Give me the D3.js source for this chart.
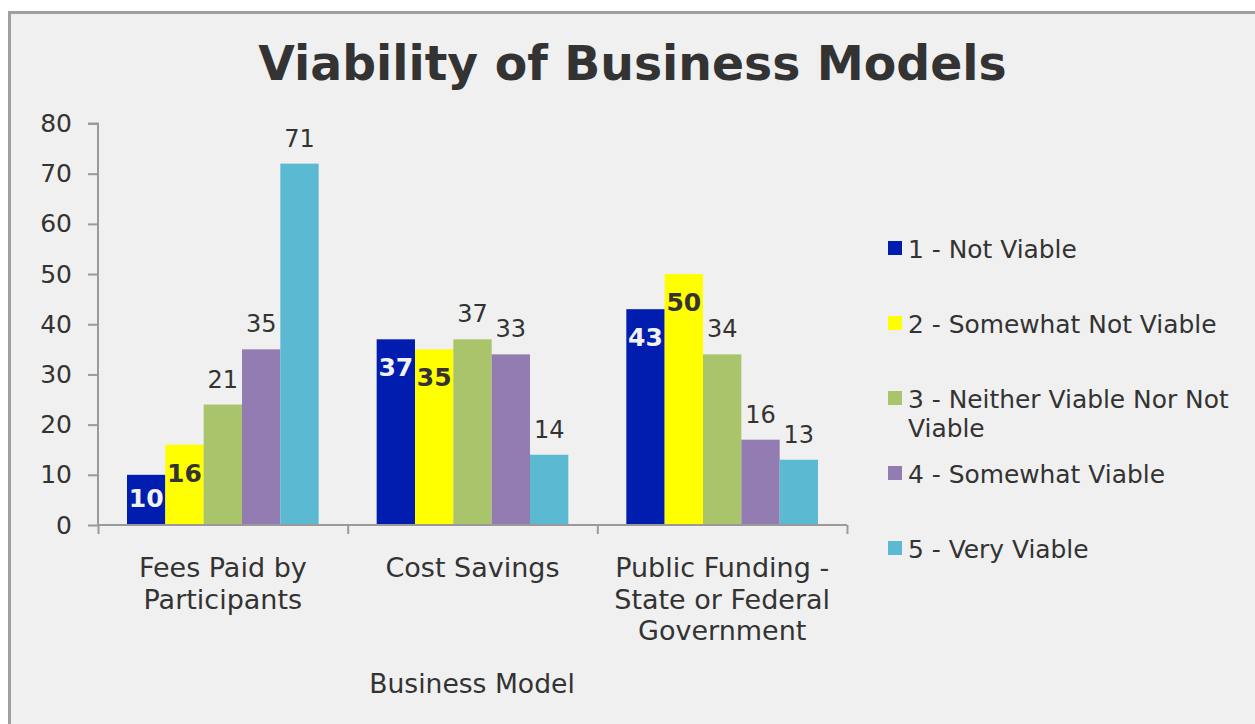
<!DOCTYPE html>
<html>
<head>
<meta charset="utf-8">
<script src="https://cdn.jsdelivr.net/npm/d3@7"></script>
<style>
  html, body { margin: 0; padding: 0; background: #ffffff; }
  svg { display: block; }
  text { font-family: "DejaVu Sans", Verdana, sans-serif; fill: #333333; }
</style>
</head>
<body>
<svg id="chart" width="1255" height="724"></svg>
<script>
// ---- data ----
const title = "Viability of Business Models";
const xAxisTitle = "Business Model";
const categories = ["Fees Paid by Participants", "Cost Savings", "Public Funding - State or Federal Government"];
const categoryLines = [["Fees Paid by", "Participants"], ["Cost Savings"], ["Public Funding -", "State or Federal", "Government"]];
const seriesNames = ["1 - Not Viable", "2 - Somewhat Not Viable", "3 - Neither Viable Nor Not Viable", "4 - Somewhat Viable", "5 - Very Viable"];
const legendLines = [["1 - Not Viable"], ["2 - Somewhat Not Viable"], ["3 - Neither Viable Nor Not", "Viable"], ["4 - Somewhat Viable"], ["5 - Very Viable"]];
const seriesColors = ["#001daf", "#ffff00", "#aac46c", "#937cb1", "#5cb9d2"];
// bar heights as drawn (per series, per category)
const barValues = [
  [10, 37, 43],
  [16, 35, 50],
  [24, 37, 34],
  [35, 34, 17],
  [72, 14, 13]
];
// labels as printed
const labelValues = [
  [10, 37, 43],
  [16, 35, 50],
  [21, 37, 34],
  [35, 33, 16],
  [71, 14, 13]
];
const insideLabel = [true, true, false, false, false];
const insideLabelColors = ["#f2f2f2", "#333333", null, null, null];
const yTicks = [0, 10, 20, 30, 40, 50, 60, 70, 80];

// ---- layout ----
const svg = d3.select("#chart");
svg.append("rect").attr("x", 9.5).attr("y", 12.5).attr("width", 1400).attr("height", 900)
  .attr("fill", "#f0f0f0").attr("stroke", "#a0a0a0").attr("stroke-width", 3);

const x0 = 98, x1 = 847, yBase = 525, yTop = 123.5;
const y = d3.scaleLinear().domain([0, 80]).range([yBase, yTop]);
const xBand = d3.scaleBand().domain(categories).range([x0, x1]).paddingInner(0).paddingOuter(0);
const groupPad = 29;
const xSub = d3.scaleBand().domain(d3.range(seriesNames.length)).range([groupPad, xBand.bandwidth() - groupPad]).padding(0);

// title
svg.append("text").attr("x", 632.5).attr("y", 80).attr("text-anchor", "middle")
  .attr("font-size", 47.3).attr("font-weight", "bold").text(title);

// y axis
const yAxis = svg.append("g").attr("transform", `translate(${x0},0)`)
  .call(d3.axisLeft(y).tickValues(yTicks).tickSize(10).tickPadding(16));
yAxis.selectAll("text").attr("font-size", 25).attr("font-family", "DejaVu Sans").style("fill", "#333");
yAxis.selectAll("line").attr("stroke", "#9a9a9a").attr("stroke-width", 2);
yAxis.select(".domain").attr("stroke", "#9a9a9a").attr("stroke-width", 2).attr("d", `M-10,${y(80)}H0V${yBase}`);

// bars
const bars = svg.append("g");
seriesNames.forEach((s, si) => {
  const g = bars.append("g");
  g.selectAll("rect").data(categories).join("rect")
    .attr("x", (c) => xBand(c) + xSub(si))
    .attr("width", xSub.bandwidth())
    .attr("y", (c, ci) => y(barValues[si][ci]))
    .attr("height", (c, ci) => yBase - y(barValues[si][ci]))
    .attr("fill", seriesColors[si]);
});

// x axis (ticks at category boundaries)
const xb = d3.scaleLinear().domain([0, categories.length]).range([x0, x1]);
const xAxis = svg.append("g").attr("transform", `translate(0,${yBase})`)
  .call(d3.axisBottom(xb).tickValues(d3.range(categories.length + 1)).tickSize(9).tickFormat(""));
xAxis.selectAll("line").attr("stroke", "#9a9a9a").attr("stroke-width", 2);
xAxis.select(".domain").attr("stroke", "#9a9a9a").attr("stroke-width", 2).attr("d", `M${x0},0H${x1}`);

// data labels
seriesNames.forEach((s, si) => {
  categories.forEach((c, ci) => {
    const cx = xBand(c) + xSub(si) + xSub.bandwidth() / 2;
    const top = y(barValues[si][ci]);
    const t = svg.append("text").attr("x", cx).attr("text-anchor", "middle").text(labelValues[si][ci]);
    if (insideLabel[si]) {
      t.attr("y", Math.min(top + 37, yBase - 18)).attr("font-size", 25).attr("font-weight", "bold")
        .style("fill", insideLabelColors[si]);
    } else {
      t.attr("y", top - 17).attr("font-size", 24);
    }
  });
});

// category labels
categories.forEach((c, ci) => {
  const t = svg.append("text").attr("text-anchor", "middle").attr("font-size", 27)
    .attr("x", xBand(c) + xBand.bandwidth() / 2).attr("y", 577);
  categoryLines[ci].forEach((ln, li) => {
    t.append("tspan").attr("x", xBand(c) + xBand.bandwidth() / 2).attr("dy", li === 0 ? 0 : 31.5).text(ln);
  });
});

// axis title
svg.append("text").attr("x", 472).attr("y", 693).attr("text-anchor", "middle").attr("font-size", 26.6).text(xAxisTitle);

// legend
const legend = svg.append("g");
seriesNames.forEach((s, si) => {
  const ly = 241 + 75 * si;
  legend.append("rect").attr("x", 888).attr("y", ly).attr("width", 14).attr("height", 14).attr("fill", seriesColors[si]);
  const t = legend.append("text").attr("x", 908).attr("y", ly + 17).attr("font-size", 24.9);
  legendLines[si].forEach((ln, li) => {
    t.append("tspan").attr("x", 908).attr("dy", li === 0 ? 0 : 28.5).text(ln);
  });
});
</script>
</body>
</html>
